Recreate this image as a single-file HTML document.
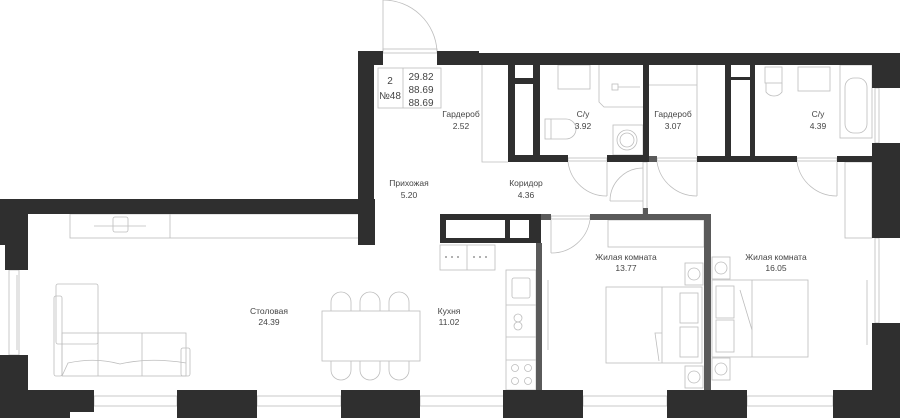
<!DOCTYPE html>
<html><head><meta charset="utf-8"><style>
html,body{margin:0;padding:0;background:#fff;width:900px;height:418px;overflow:hidden}
svg{display:block}
text{font-family:"Liberation Sans",sans-serif;font-size:8.5px;fill:#444;text-anchor:middle}
.l{fill:none;stroke:#bdbdbd;stroke-width:0.8}
.d{fill:#2f2f2f}
.g{fill:#5a5a5a}
</style></head><body>
<svg width="900" height="418" viewBox="0 0 900 418" xmlns="http://www.w3.org/2000/svg">
<!-- thin furniture / fixtures -->
<g class="l">
 <!-- entry door -->
 <line x1="383" y1="0" x2="383" y2="51"/><path d="M383 0 A54 54 0 0 1 437 51"/>
 <rect x="383" y="49" width="54" height="4"/>
 <!-- info box -->
 <rect x="378" y="68" width="63" height="40"/><line x1="403" y1="68" x2="403" y2="108"/>
 <!-- wardrobe 2.52 -->
 <polyline points="482,65 482,162 508,162"/>
 <!-- bath 3.92 fixtures -->
 <rect x="558" y="65" width="32" height="24"/><polyline points="599,65 599,102 604,107 643,107"/>
 <rect x="612" y="84" width="6" height="6"/><line x1="618" y1="87" x2="640" y2="87"/>
 <rect x="545" y="119" width="6" height="20"/><path d="M551 119 H566 A10 10 0 0 1 566 139 H551"/>
 <rect x="613" y="125" width="30" height="30"/><circle cx="627" cy="140" r="10"/><circle cx="627" cy="140" r="7"/>
 <!-- bath door -->
 <rect x="568" y="158" width="39" height="3"/><line x1="607" y1="162" x2="607" y2="196"/><path d="M568 162 A39 39 0 0 0 607 196"/>
 <!-- wardrobe 3.07 -->
 <polyline points="649,85 697,85"/><line x1="697" y1="65" x2="697" y2="156"/>
 <rect x="657" y="158" width="40" height="3"/><line x1="697" y1="162" x2="697" y2="196"/><path d="M657 162 A40 40 0 0 0 697 196"/>
 <!-- corridor partition door -->
 <rect x="643" y="162" width="4" height="52"/><line x1="610" y1="201" x2="643" y2="201"/><path d="M610 201 A33 33 0 0 1 643 168"/>
 <!-- bath 4.39 fixtures -->
 <rect x="765" y="67" width="17" height="16"/><path d="M766 83 V92 A10 10 0 0 0 782 92 V83"/>
 <rect x="798" y="67" width="32" height="24"/>
 <rect x="840" y="65" width="32" height="73"/><rect x="845" y="78" width="22" height="55" rx="9"/>
 <rect x="797" y="158" width="40" height="3"/><line x1="837" y1="162" x2="837" y2="196"/><path d="M797 162 A40 40 0 0 0 837 196"/>
 <!-- right wardrobe -->
 <rect x="845" y="162" width="27" height="76"/>
 <rect x="875" y="88" width="4" height="55"/><rect x="875" y="238" width="4" height="85"/>
 <line x1="867" y1="280" x2="867" y2="345"/>
 <!-- living -->
 <rect x="70" y="214" width="290" height="24"/><line x1="170" y1="214" x2="170" y2="238"/>
 <line x1="94" y1="226" x2="146" y2="226"/><rect x="113" y="217" width="15" height="15" rx="2"/>
 <rect x="9" y="270" width="10" height="85"/><line x1="17" y1="275" x2="17" y2="350"/>
 <rect x="56" y="284" width="42" height="60" rx="2"/>
 <rect x="54" y="296" width="8" height="80" rx="2"/>
 <rect x="62" y="333" width="124" height="43"/><line x1="98" y1="333" x2="98" y2="376"/><line x1="142" y1="333" x2="142" y2="376"/>
 <path d="M62 376 L68 363 Q95 357 120 364 Q150 357 186 363"/>
 <rect x="181" y="348" width="9" height="28" rx="2"/>
 <rect x="322" y="311" width="98" height="50"/>
 <path d="M331 311 V302 A10 10 0 0 1 351 302 V311 M360 311 V302 A10 10 0 0 1 380 302 V311 M389 311 V302 A10 10 0 0 1 409 302 V311"/>
 <path d="M331 361 V370 A10 10 0 0 0 351 370 V361 M360 361 V370 A10 10 0 0 0 380 370 V361 M389 361 V370 A10 10 0 0 0 409 370 V361"/>
 <!-- kitchen -->
 <rect x="440" y="245" width="55" height="25"/><line x1="467" y1="245" x2="467" y2="270"/>
 <rect x="506" y="270" width="30" height="120"/>
 <line x1="506" y1="305" x2="536" y2="305"/><line x1="506" y1="337" x2="536" y2="337"/><line x1="506" y1="360" x2="536" y2="360"/>
 <rect x="512" y="278" width="18" height="20" rx="2"/>
 <circle cx="518" cy="318" r="4"/><circle cx="518" cy="326" r="4"/>
 <circle cx="515" cy="368" r="3.5"/><circle cx="528" cy="368" r="3.5"/><circle cx="515" cy="381" r="3.5"/><circle cx="528" cy="381" r="3.5"/>
 <!-- windows bottom -->
 <rect x="94" y="396" width="83" height="10"/><rect x="257" y="396" width="84" height="10"/><rect x="420" y="396" width="84" height="10"/>
 <rect x="583" y="396" width="84" height="10"/><rect x="747" y="396" width="86" height="10"/>
 <!-- bedroom 13.77 -->
 <rect x="551" y="216" width="39" height="3"/><line x1="551" y1="220" x2="551" y2="253"/><path d="M551 253 A39 39 0 0 0 590 220"/>
 <line x1="548" y1="280" x2="548" y2="350"/>
 <rect x="608" y="220" width="96" height="27"/>
 <rect x="606" y="287" width="96" height="76"/><line x1="662" y1="287" x2="662" y2="363"/>
 <rect x="680" y="293" width="18" height="30"/><rect x="680" y="327" width="18" height="30"/>
 <polyline points="662,333 655,333 659,361"/>
 <rect x="685" y="263" width="18" height="22"/><circle cx="694" cy="274" r="6"/>
 <rect x="685" y="366" width="18" height="22"/><circle cx="694" cy="377" r="6"/>
 <!-- bedroom 16.05 -->
 <rect x="712" y="280" width="96" height="77"/><line x1="752" y1="280" x2="752" y2="357"/>
 <rect x="716" y="286" width="18" height="32"/><rect x="716" y="320" width="18" height="32"/>
 <polyline points="740,290 752,330"/>
 <rect x="712" y="257" width="18" height="22"/><circle cx="721" cy="268" r="6"/>
 <rect x="712" y="358" width="18" height="22"/><circle cx="721" cy="369" r="6"/>
</g>
<!-- dark walls -->
<g class="d">
 <rect x="358" y="51" width="25" height="14"/><rect x="437" y="51" width="42" height="14"/><rect x="437" y="53" width="435" height="12"/>
 <rect x="358" y="51" width="16" height="194"/>
 <rect x="872" y="53" width="28" height="35"/><rect x="872" y="143" width="28" height="95"/><rect x="872" y="323" width="28" height="95"/>
 <path d="M508 65 H540 V162 H508 Z M515 65 V78 H533 V65 Z M515 84 V155 H533 V84 Z" fill-rule="evenodd"/>
 <rect x="540" y="155" width="28" height="7"/><rect x="607" y="155" width="38" height="7"/>
 <rect x="643" y="65" width="6" height="97"/>
 <path d="M725 65 H755 V162 H725 Z M731 65 V77 H750 V65 Z M731 80 V156 H750 V80 Z" fill-rule="evenodd"/>
 <rect x="697" y="156" width="28" height="6"/><rect x="755" y="156" width="42" height="6"/><rect x="837" y="156" width="35" height="6"/>
 <rect x="0" y="199" width="375" height="15"/><rect x="358" y="214" width="17" height="31"/>
 <rect x="0" y="214" width="28" height="31"/><rect x="5" y="245" width="23" height="25"/><rect x="0" y="355" width="28" height="35"/>
 <rect x="0" y="390" width="94" height="22"/><rect x="0" y="412" width="70" height="6"/>
 <rect x="177" y="390" width="80" height="28"/><rect x="341" y="390" width="79" height="28"/><rect x="503" y="390" width="80" height="28"/>
 <rect x="667" y="390" width="80" height="28"/><rect x="833" y="390" width="67" height="28"/>
 <path d="M440 214 H541 V243 H440 Z M446 220 V238 H505 V220 Z M510 220 V238 H529 V220 Z" fill-rule="evenodd"/>
</g>
<g class="g">
 <rect x="649" y="156" width="8" height="6"/>
 <rect x="536" y="243" width="6" height="147"/>
 <rect x="541" y="214" width="10" height="6"/><rect x="590" y="214" width="121" height="6"/>
 <rect x="704" y="214" width="7" height="176"/>
 <rect x="643" y="208" width="5" height="8"/>
</g>
<!-- labels -->
<text x="390" y="84" style="font-size:10px">2</text>
<text x="390" y="99" style="font-size:10px">№48</text>
<text x="421" y="80" style="font-size:10px">29.82</text>
<text x="421" y="93" style="font-size:10px">88.69</text>
<text x="421" y="106" style="font-size:10px">88.69</text>
<text x="461" y="117">Гардероб</text><text x="461" y="129">2.52</text>
<text x="583" y="117">С/у</text><text x="583" y="129">3.92</text>
<text x="673" y="117">Гардероб</text><text x="673" y="129">3.07</text>
<text x="818" y="117">С/у</text><text x="818" y="129">4.39</text>
<text x="409" y="186">Прихожая</text><text x="409" y="198">5.20</text>
<text x="526" y="186">Коридор</text><text x="526" y="198">4.36</text>
<text x="626" y="260">Жилая комната</text><text x="626" y="271">13.77</text>
<text x="776" y="260">Жилая комната</text><text x="776" y="271">16.05</text>
<text x="269" y="314">Столовая</text><text x="269" y="325">24.39</text>
<text x="449" y="314">Кухня</text><text x="449" y="325">11.02</text>
<g fill="#999"><circle cx="446" cy="257" r="1"/><circle cx="452" cy="257" r="1"/><circle cx="458" cy="257" r="1"/><circle cx="474" cy="257" r="1"/><circle cx="480" cy="257" r="1"/><circle cx="486" cy="257" r="1"/></g>
</svg>
</body></html>
